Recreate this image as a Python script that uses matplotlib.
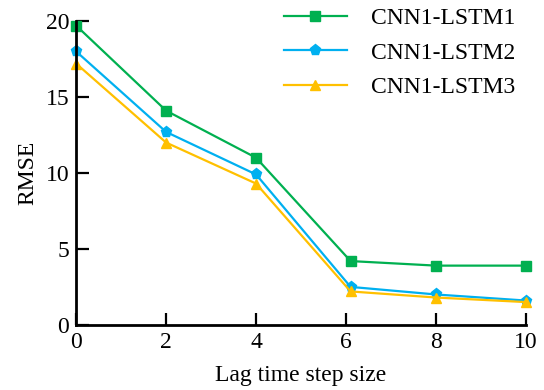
import matplotlib
matplotlib.use("Agg")
import matplotlib.pyplot as plt

lag = [0, 2, 4, 6.1, 8, 10]
lstm1 = [19.7, 14.1, 11.0, 4.2, 3.9, 3.9]
lstm2 = [18.0, 12.7, 9.9, 2.5, 2.0, 1.6]
lstm3 = [17.2, 12.0, 9.3, 2.2, 1.8, 1.5]
labels = ["CNN1-LSTM1", "CNN1-LSTM2", "CNN1-LSTM3"]
xticks = [0, 2, 4, 6, 8, 10]
yticks = [0, 5, 10, 15, 20]

plt.rcParams['font.family'] = ['Liberation Serif', 'DejaVu Serif']
fig = plt.figure(figsize=(5.44, 3.9), dpi=100)
ax = fig.add_axes([0.14, 0.167, 0.827, 0.779])

ax.plot(lag, lstm1, color='#00B050', marker='s', ms=7, lw=1.6, label=labels[0], clip_on=False)
ax.plot(lag, lstm2, color='#00B0F0', marker='p', ms=8, lw=1.6, label=labels[1], clip_on=False)
ax.plot(lag, lstm3, color='#FFC000', marker='^', ms=7, lw=1.6, label=labels[2], clip_on=False)

ax.set_xlim(0, 10)
ax.set_ylim(0, 20)
ax.set_xticks(xticks)
ax.set_yticks(yticks)
for s in ['top', 'right']:
    ax.spines[s].set_visible(False)
for s in ['left', 'bottom']:
    ax.spines[s].set_linewidth(2)
ax.tick_params(direction='in', length=9, width=1.6, labelsize=17, pad=5)
ax.set_xlabel('Lag time step size', fontsize=17, labelpad=9)
ax.set_ylabel('RMSE', fontsize=17, labelpad=5)
ax.legend(loc='upper right', bbox_to_anchor=(0.997, 1.075), frameon=False, fontsize=17,
          handlelength=2.7, handletextpad=1.0, labelspacing=0.55, borderaxespad=0)
fig.savefig('out.png', dpi=100)
